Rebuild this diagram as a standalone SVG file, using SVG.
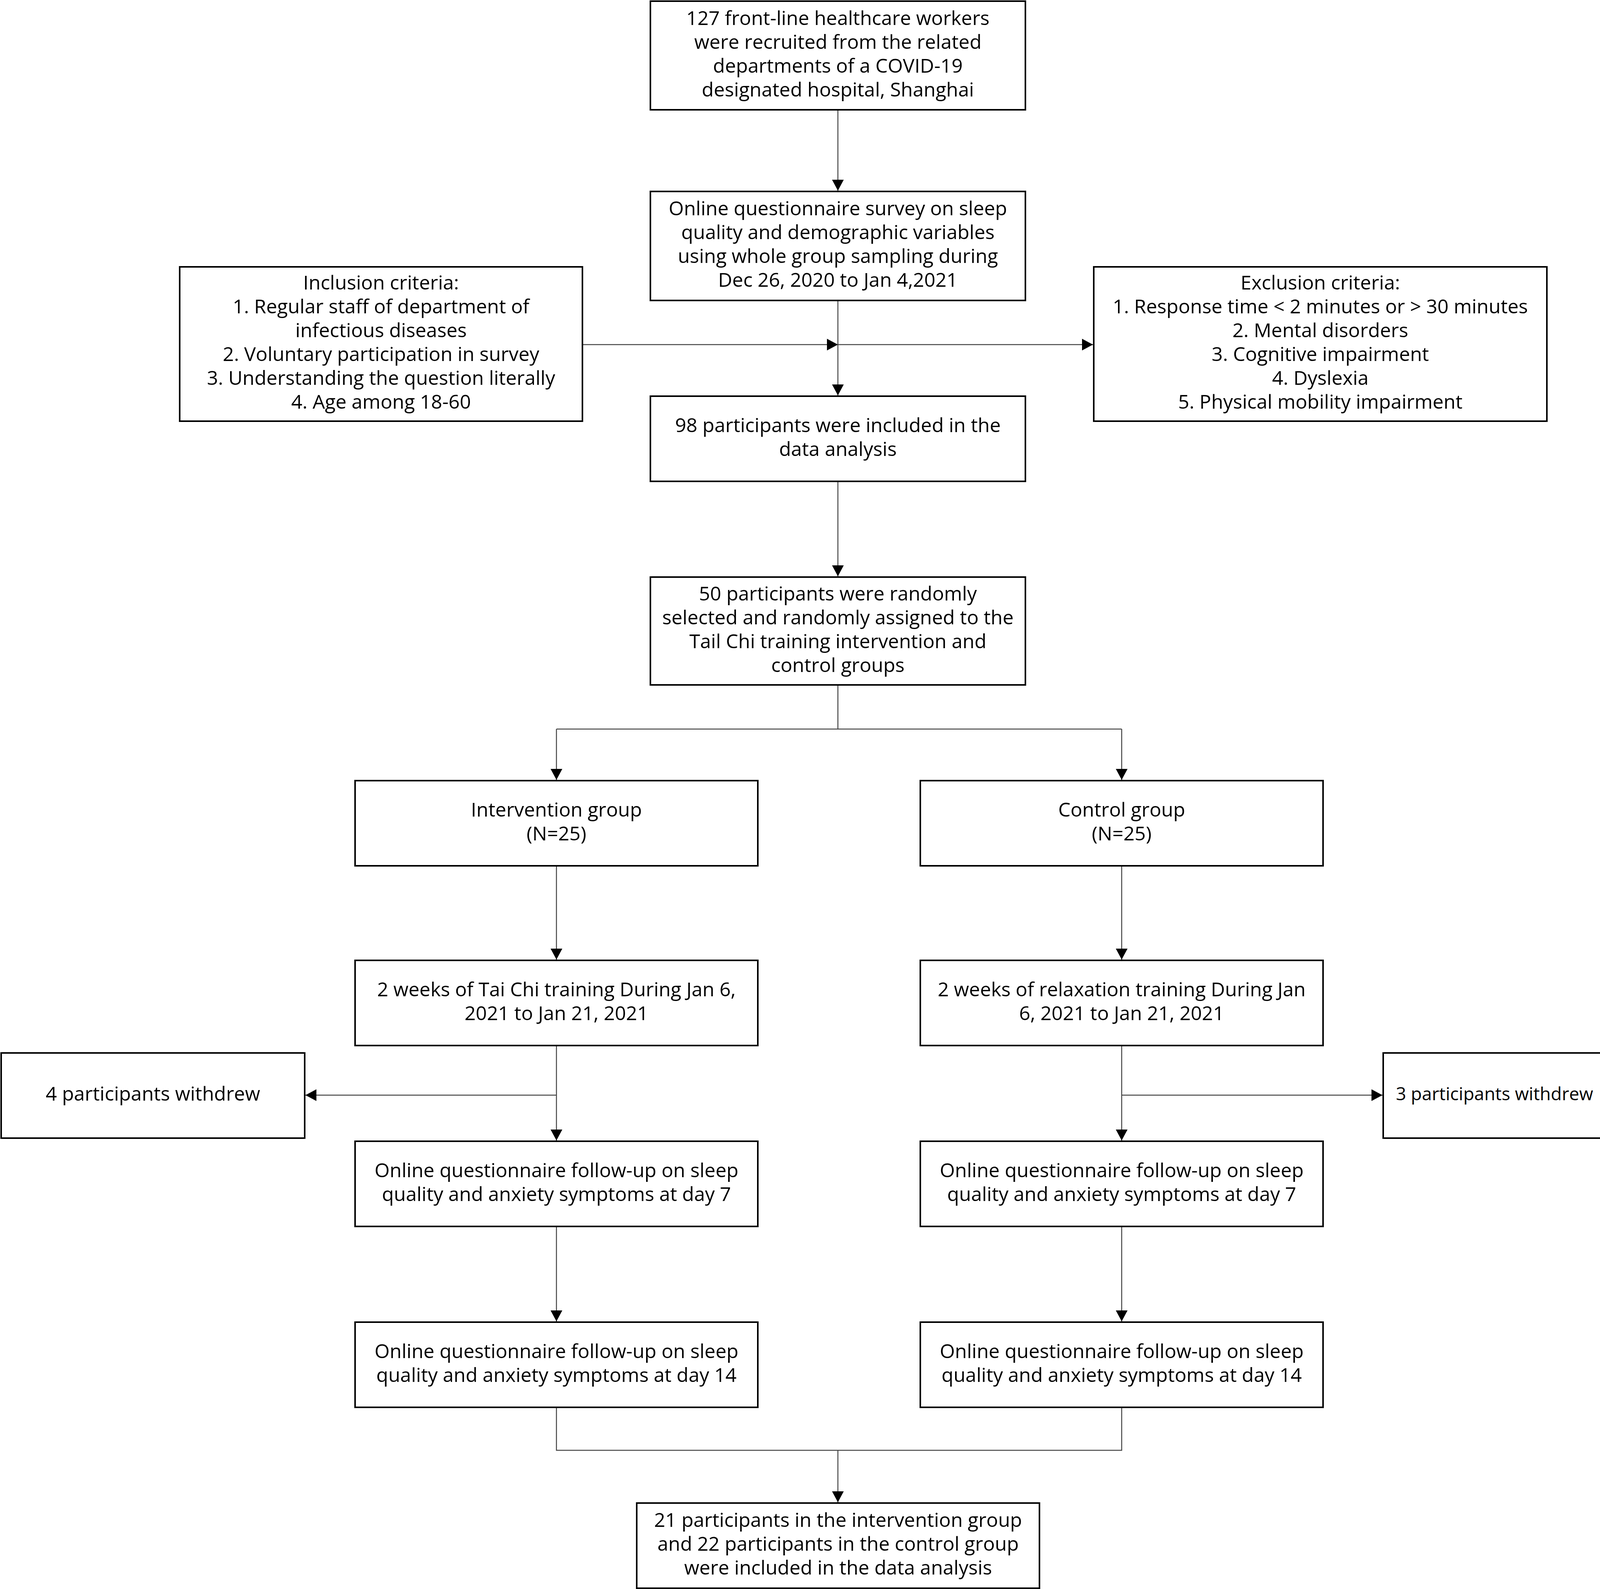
<svg xmlns="http://www.w3.org/2000/svg" width="4321" height="4067" viewBox="0 0 4321 4067">
<style>
.box{fill:#fff;stroke:#000;stroke-width:4}
.t{font-family:"Open Sans","Liberation Sans",sans-serif;font-size:50px;fill:#000;text-anchor:middle}
.c{fill:none;stroke:#444;stroke-width:2.5}
</style>
<defs>
<marker id="ah" markerUnits="userSpaceOnUse" markerWidth="30" markerHeight="32" refX="28" refY="15" orient="auto">
<path d="M0,0 L28,15 L0,30 Z" fill="#000"/>
</marker>
</defs>
<rect width="4321" height="4067" fill="#fff"/>
<g id="connectors">
<path class="c" d="M2145,281 V488" marker-end="url(#ah)"/>
<path class="c" d="M2145,769 V1012" marker-end="url(#ah)"/>
<path class="c" d="M1491,882 H2145" marker-end="url(#ah)"/>
<path class="c" d="M2145,882 H2798" marker-end="url(#ah)"/>
<path class="c" d="M2145,1232 V1475" marker-end="url(#ah)"/>
<path class="c" d="M2145,1753 V1866 M1424.5,1866 H2871.5"/>
<path class="c" d="M1424.5,1866 V1996" marker-end="url(#ah)"/>
<path class="c" d="M2871.5,1866 V1996" marker-end="url(#ah)"/>
<path class="c" d="M1424.5,2216 V2456" marker-end="url(#ah)"/>
<path class="c" d="M2871.5,2216 V2456" marker-end="url(#ah)"/>
<path class="c" d="M1424.5,2676 V2919" marker-end="url(#ah)"/>
<path class="c" d="M2871.5,2676 V2919" marker-end="url(#ah)"/>
<path class="c" d="M1424.5,2803 H782" marker-end="url(#ah)"/>
<path class="c" d="M2871.5,2803 H3539" marker-end="url(#ah)"/>
<path class="c" d="M1424.5,3139 V3382" marker-end="url(#ah)"/>
<path class="c" d="M2871.5,3139 V3382" marker-end="url(#ah)"/>
<path class="c" d="M1424.5,3602 V3712 H2871.5 V3602"/>
<path class="c" d="M2145,3712 V3845" marker-end="url(#ah)"/>
</g>
<g id="n1"><rect class="box" x="1665" y="3" width="960" height="278"/>
<text class="t"><tspan x="2145" y="63.5">127 front-line healthcare workers</tspan><tspan x="2145" y="124.5">were recruited from the related</tspan><tspan x="2145" y="185.5">departments of a COVID-19</tspan><tspan x="2145" y="246.5">designated hospital, Shanghai</tspan></text></g>
<g id="n2"><rect class="box" x="1665" y="490" width="960" height="279"/>
<text class="t"><tspan x="2145" y="551">Online questionnaire survey on sleep</tspan><tspan x="2145" y="612">quality and demographic variables</tspan><tspan x="2145" y="673">using whole group sampling during</tspan><tspan x="2145" y="734">Dec 26, 2020 to Jan 4,2021</tspan></text></g>
<g id="inclusion"><rect class="box" x="460" y="683" width="1031" height="395"/>
<text class="t"><tspan x="975.5" y="741">Inclusion criteria:</tspan><tspan x="975.5" y="802">1. Regular staff of department of</tspan><tspan x="975.5" y="863">infectious diseases</tspan><tspan x="975.5" y="924">2. Voluntary participation in survey</tspan><tspan x="975.5" y="985">3. Understanding the question literally</tspan><tspan x="975.5" y="1046">4. Age among 18-60</tspan></text></g>
<g id="exclusion"><rect class="box" x="2800" y="683" width="1160" height="395"/>
<text class="t"><tspan x="3380" y="741">Exclusion criteria:</tspan><tspan x="3380" y="802">1. Response time &lt; 2 minutes or &gt; 30 minutes</tspan><tspan x="3380" y="863">2. Mental disorders</tspan><tspan x="3380" y="924">3. Cognitive impairment</tspan><tspan x="3380" y="985">4. Dyslexia</tspan><tspan x="3380" y="1046">5. Physical mobility impairment</tspan></text></g>
<g id="n3"><rect class="box" x="1665" y="1014" width="960" height="218"/>
<text class="t"><tspan x="2145" y="1105.5">98 participants were included in the</tspan><tspan x="2145" y="1166.5">data analysis</tspan></text></g>
<g id="n4"><rect class="box" x="1665" y="1477" width="960" height="276"/>
<text class="t"><tspan x="2145" y="1536.5">50 participants were randomly</tspan><tspan x="2145" y="1597.5">selected and randomly assigned to the</tspan><tspan x="2145" y="1658.5">Tail Chi training intervention and</tspan><tspan x="2145" y="1719.5">control groups</tspan></text></g>
<g id="intervention"><rect class="box" x="909" y="1998" width="1031" height="218"/>
<text class="t"><tspan x="1424.5" y="2089.5">Intervention group</tspan><tspan x="1424.5" y="2150.5">(N=25)</tspan></text></g>
<g id="control"><rect class="box" x="2356" y="1998" width="1031" height="218"/>
<text class="t"><tspan x="2871.5" y="2089.5">Control group</tspan><tspan x="2871.5" y="2150.5">(N=25)</tspan></text></g>
<g id="trainI"><rect class="box" x="909" y="2458" width="1031" height="218"/>
<text class="t"><tspan x="1424.5" y="2549.5">2 weeks of Tai Chi training During Jan 6,</tspan><tspan x="1424.5" y="2610.5">2021 to Jan 21, 2021</tspan></text></g>
<g id="trainC"><rect class="box" x="2356" y="2458" width="1031" height="218"/>
<text class="t"><tspan x="2871.5" y="2549.5">2 weeks of relaxation training During Jan</tspan><tspan x="2871.5" y="2610.5">6, 2021 to Jan 21, 2021</tspan></text></g>
<g id="withdrawL"><rect class="box" x="3" y="2695" width="777" height="218"/>
<text class="t" x="391.5" y="2817">4 participants withdrew</text></g>
<g id="withdrawR"><rect class="box" x="3541" y="2695" width="777" height="218"/>
<text class="t" x="3826" y="2816" style="font-size:46px">3 participants withdrew</text></g>
<g id="d7I"><rect class="box" x="909" y="2921" width="1031" height="218"/>
<text class="t"><tspan x="1424.5" y="3012.5">Online questionnaire follow-up on sleep</tspan><tspan x="1424.5" y="3073.5">quality and anxiety symptoms at day 7</tspan></text></g>
<g id="d7C"><rect class="box" x="2356" y="2921" width="1031" height="218"/>
<text class="t"><tspan x="2871.5" y="3012.5">Online questionnaire follow-up on sleep</tspan><tspan x="2871.5" y="3073.5">quality and anxiety symptoms at day 7</tspan></text></g>
<g id="d14I"><rect class="box" x="909" y="3384" width="1031" height="218"/>
<text class="t"><tspan x="1424.5" y="3475.5">Online questionnaire follow-up on sleep</tspan><tspan x="1424.5" y="3536.5">quality and anxiety symptoms at day 14</tspan></text></g>
<g id="d14C"><rect class="box" x="2356" y="3384" width="1031" height="218"/>
<text class="t"><tspan x="2871.5" y="3475.5">Online questionnaire follow-up on sleep</tspan><tspan x="2871.5" y="3536.5">quality and anxiety symptoms at day 14</tspan></text></g>
<g id="final"><rect class="box" x="1630" y="3847" width="1031" height="218"/>
<text class="t"><tspan x="2145.5" y="3908">21 participants in the intervention group</tspan><tspan x="2145.5" y="3969">and 22 participants in the control group</tspan><tspan x="2145.5" y="4030">were included in the data analysis</tspan></text></g>
</svg>
